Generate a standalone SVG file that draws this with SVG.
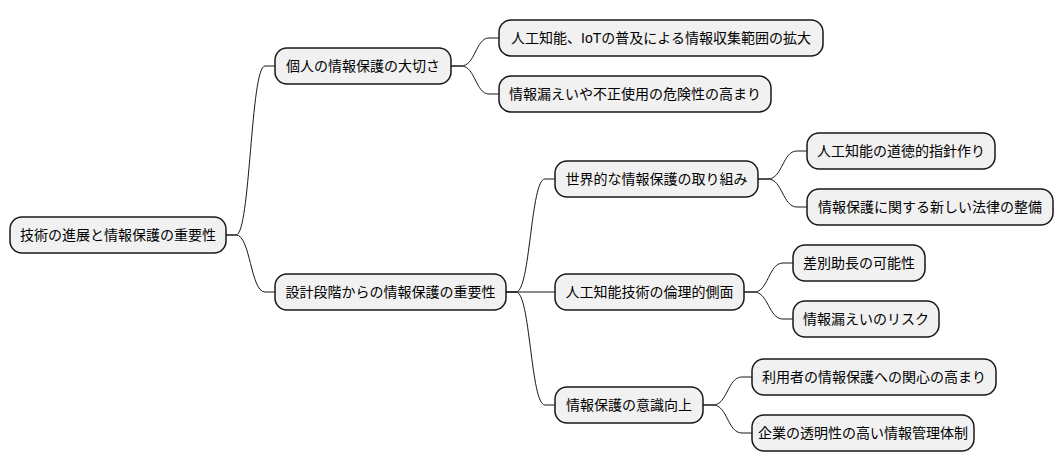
<svg xmlns="http://www.w3.org/2000/svg" width="1062" height="471" viewBox="0 0 1062 471">
<style>
.n rect{fill:#F1F1F1;stroke:#181818;stroke-width:1.5}
.n text{font-family:"Liberation Sans","Noto Sans CJK JP",sans-serif;font-size:14px;fill:#000;text-anchor:middle}
.c path{fill:none;stroke:#181818;stroke-width:1}
</style>
<rect width="1062" height="471" fill="#FFFFFF"/>
<g id="connectors" class="c">
<path d="M226,235 L236,235 C250.5,235 250.5,66 265,66 L275,66"/>
<path d="M226,235 L236,235 C250.5,235 250.5,292 265,292 L275,292"/>
<path d="M451,66 L461,66 C475.5,66 475.5,38 489,38 L499,38"/>
<path d="M451,66 L461,66 C475.5,66 475.5,94 489,94 L499,94"/>
<path d="M506,292 L516,292 C530.5,292 530.5,179 545,179 L555,179"/>
<path d="M506,292 L555,292"/>
<path d="M506,292 L516,292 C530.5,292 530.5,405 545,405 L555,405"/>
<path d="M758,179 L768,179 C782.5,179 782.5,151 797,151 L807,151"/>
<path d="M758,179 L768,179 C782.5,179 782.5,207 797,207 L807,207"/>
<path d="M744,292 L754,292 C768.5,292 768.5,263 783,263 L793,263"/>
<path d="M744,292 L754,292 C768.5,292 768.5,319 783,319 L793,319"/>
<path d="M703,405 L713,405 C727.5,405 727.5,377 742,377 L752,377"/>
<path d="M703,405 L713,405 C727.5,405 727.5,433 742,433 L752,433"/>
</g>
<g id="root" class="n"><rect x="10" y="217" width="216" height="36" rx="12"/><text x="118" y="240">技術の進展と情報保護の重要性</text></g>
<g id="n1" class="n"><rect x="275" y="48" width="176" height="36" rx="12"/><text x="363" y="71">個人の情報保護の大切さ</text></g>
<g id="n2" class="n"><rect x="275" y="274" width="231" height="36" rx="12"/><text x="390.5" y="297">設計段階からの情報保護の重要性</text></g>
<g id="n11" class="n"><rect x="499" y="20" width="324" height="36" rx="12"/><text x="661" y="43">人工知能、IoTの普及による情報収集範囲の拡大</text></g>
<g id="n12" class="n"><rect x="499" y="76" width="272" height="36" rx="12"/><text x="635" y="99">情報漏えいや不正使用の危険性の高まり</text></g>
<g id="n21" class="n"><rect x="555" y="161" width="203" height="36" rx="12"/><text x="656.5" y="184">世界的な情報保護の取り組み</text></g>
<g id="n22" class="n"><rect x="555" y="274" width="189" height="36" rx="12"/><text x="649.5" y="297">人工知能技術の倫理的側面</text></g>
<g id="n23" class="n"><rect x="555" y="387" width="148" height="36" rx="12"/><text x="629" y="410">情報保護の意識向上</text></g>
<g id="n211" class="n"><rect x="807" y="133" width="188" height="36" rx="12"/><text x="901" y="156">人工知能の道徳的指針作り</text></g>
<g id="n212" class="n"><rect x="807" y="189" width="246" height="36" rx="12"/><text x="930" y="212">情報保護に関する新しい法律の整備</text></g>
<g id="n221" class="n"><rect x="793" y="245" width="132" height="36" rx="12"/><text x="859" y="268">差別助長の可能性</text></g>
<g id="n222" class="n"><rect x="793" y="301" width="146" height="36" rx="12"/><text x="866" y="324">情報漏えいのリスク</text></g>
<g id="n231" class="n"><rect x="752" y="359" width="244" height="36" rx="12"/><text x="874" y="382">利用者の情報保護への関心の高まり</text></g>
<g id="n232" class="n"><rect x="752" y="415" width="222" height="36" rx="12"/><text x="863" y="438">企業の透明性の高い情報管理体制</text></g>
</svg>
